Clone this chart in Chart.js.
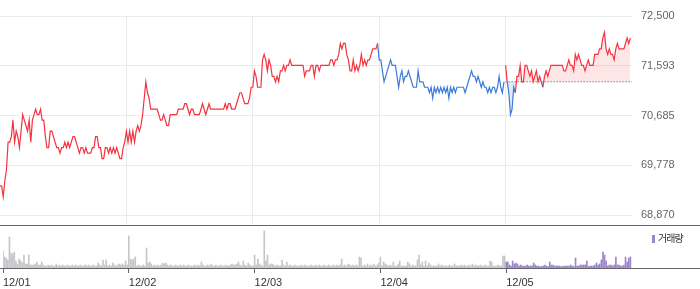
<!DOCTYPE html>
<html>
<head>
<meta charset="utf-8">
<script src="https://cdn.jsdelivr.net/npm/chart.js@4.4.1/dist/chart.umd.min.js"></script>
<style>
  html, body { margin: 0; padding: 0; background: #fff; }
  #wrap { position: relative; width: 700px; height: 289px; overflow: hidden; }
  #price { position: absolute; left: 0; top: 0; }
  #vol { position: absolute; left: 0; top: 226px; }
  #legend { position: absolute; left: 652px; top: 232px; font: 10px "Noto Sans CJK KR", sans-serif; color: #333; line-height: 11px; letter-spacing: -1px; }
  #legend i { display: inline-block; width: 3px; height: 8px; background: #9b86c9; margin-right: 3px; vertical-align: -1px; }
</style>
</head>
<body>
<div id="wrap">
  <canvas id="price" width="700" height="226" style="width:700px;height:226px"></canvas>
  <canvas id="vol" width="700" height="63" style="width:700px;height:63px"></canvas>
  <div id="legend"><i></i>거래량</div>
</div>
<script>
// 5-day intraday chart, 78 bars per day
const days = ['12/01', '12/02', '12/03', '12/04', '12/05'];
const yTicks = [68870, 69778, 70685, 71593, 72500];

const day1 = [
  69400, 69400, 69200, 69500, 69700, 70200, 70200, 70300, 70600, 70200,
  70400, 70300, 70100, 70400, 70700, 70600, 70500, 70400, 70600, 70200,
  70600, 70700, 70800, 70700, 70700, 70800, 70600, 70600, 70300, 70100,
  70100, 70400, 70400, 70300, 70200, 70100, 70100, 70000, 70100, 70100,
  70200, 70100, 70200, 70100, 70200, 70300, 70300, 70200, 70100, 70000,
  70100, 70100, 70000, 70100, 70000, 70000, 70000, 70100, 70100, 70300,
  70300, 70100, 70100, 69900, 69900, 70100, 70100, 70000, 70100, 70000,
  70100, 70000, 70100, 70000, 69900, 69900, 70100, 70200
];
const day2 = [
  70400, 70200, 70400, 70200, 70400, 70200, 70400, 70500, 70400, 70500,
  70700, 71000, 71300, 71100, 71000, 70800, 70800, 70800, 70800, 70800,
  70700, 70600, 70600, 70700, 70600, 70500, 70500, 70700, 70700, 70700,
  70700, 70700, 70800, 70800, 70800, 70800, 70900, 70900, 70800, 70700,
  70800, 70800, 70700, 70700, 70700, 70700, 70800, 70900, 70800, 70700,
  70800, 70900, 70800, 70800, 70800, 70800, 70800, 70800, 70800, 70800,
  70800, 70900, 70800, 70900, 70900, 70800, 70800, 70800, 70900, 71000,
  71100, 71100, 71000, 70900, 70900, 70900, 71000, 71200
];
const day3 = [
  71200, 71500, 71400, 71200, 71200, 71200, 71700, 71800, 71700, 71500,
  71700, 71600, 71400, 71400, 71300, 71400, 71300, 71500, 71500, 71600,
  71500, 71600, 71600, 71700, 71600, 71600, 71600, 71600, 71600, 71600,
  71600, 71600, 71400, 71500, 71500, 71500, 71600, 71600, 71400, 71600,
  71600, 71500, 71600, 71600, 71600, 71600, 71600, 71600, 71700, 71700,
  71600, 71700, 71700, 71800, 72000, 71900, 72000, 72000, 71800, 71700,
  71500, 71500, 71700, 71500, 71600, 71500, 71600, 71800, 71600, 71700,
  71600, 71700, 71700, 71800, 71900, 71900, 71900, 72000
];
const day4 = [
  71700, 71700, 71500, 71300, 71400, 71500, 71600, 71700, 71600, 71600,
  71600, 71400, 71200, 71400, 71500, 71300, 71400, 71400, 71500, 71400,
  71300, 71200, 71200, 71200, 71500, 71300, 71300, 71300, 71200, 71200,
  71200, 71100, 71200, 71000, 71200, 71100, 71200, 71100, 71200, 71100,
  71200, 71100, 71200, 71000, 71200, 71100, 71200, 71100, 71200, 71200,
  71200, 71200, 71200, 71100, 71200, 71300, 71400, 71500, 71400, 71400,
  71300, 71400, 71300, 71200, 71300, 71200, 71200, 71100, 71200, 71100,
  71200, 71200, 71100, 71200, 71400, 71200, 71100, 71300
];
const day5 = [
  71600, 71300, 71100, 70700, 70800, 71200, 71100, 71400, 71400, 71600,
  71300, 71300, 71600, 71600, 71500, 71400, 71500, 71300, 71400, 71500,
  71300, 71400, 71300, 71200, 71400, 71500, 71400, 71500, 71600, 71600,
  71600, 71600, 71600, 71600, 71600, 71600, 71500, 71500, 71600, 71700,
  71600, 71600, 71500, 71800, 71700, 71800, 71700, 71600, 71600, 71500,
  71600, 71700, 71600, 71600, 71600, 71800, 71800, 71800, 71900, 71900,
  72100, 72200, 71900, 71800, 71900, 71800, 71800, 71700, 71900, 72000,
  71900, 71900, 71900, 71900, 72000, 72100, 72000, 72100
];

// volume, thousand shares
const vol1 = [
  17, 11, 10, 8, 31, 15, 14, 16, 7, 4,
  9, 7, 5, 13, 4, 4, 13, 3, 3, 3,
  4, 6, 3, 3, 6, 3, 2, 2, 3, 2,
  3, 2, 2, 4, 2, 3, 2, 3, 2, 2,
  3, 2, 2, 3, 2, 3, 2, 2, 3, 2,
  2, 3, 2, 3, 2, 2, 3, 2, 2, 5,
  3, 2, 8, 3, 8, 2, 3, 2, 5, 3,
  2, 3, 4, 3, 4, 3, 7, 3
];
const vol2 = [
  32, 9, 8, 9, 11, 2, 3, 2, 2, 3,
  2, 20, 5, 6, 4, 2, 3, 2, 3, 2,
  3, 5, 4, 5, 3, 2, 3, 2, 2, 3,
  2, 2, 3, 2, 3, 2, 2, 3, 2, 2,
  2, 3, 2, 3, 2, 6, 3, 2, 2, 3,
  2, 4, 2, 2, 3, 2, 2, 3, 2, 2,
  3, 2, 2, 3, 4, 3, 3, 4, 6, 3,
  2, 7, 3, 2, 5, 3, 2, 2
];
const vol3 = [
  13, 3, 9, 4, 3, 2, 37, 7, 13, 3,
  4, 4, 3, 2, 3, 2, 2, 8, 3, 2,
  6, 2, 3, 2, 2, 3, 2, 2, 2, 3,
  2, 3, 2, 2, 2, 3, 2, 2, 3, 2,
  3, 2, 2, 3, 2, 2, 3, 2, 2, 3,
  2, 3, 2, 3, 9, 2, 3, 2, 4, 3,
  2, 3, 2, 3, 2, 11, 10, 2, 3, 2,
  4, 2, 3, 2, 4, 2, 3, 5
];
const vol4 = [
  11, 2, 6, 4, 3, 2, 3, 2, 6, 2,
  2, 4, 7, 2, 2, 2, 2, 6, 4, 2,
  3, 2, 2, 8, 13, 3, 6, 2, 7, 2,
  5, 3, 2, 2, 2, 2, 4, 2, 3, 2,
  2, 2, 2, 3, 2, 2, 4, 2, 2, 2,
  3, 2, 3, 2, 2, 3, 2, 4, 2, 3,
  2, 2, 3, 2, 2, 3, 2, 2, 7, 6,
  2, 2, 2, 3, 2, 2, 12, 12
];
const vol5 = [
  6, 6, 3, 2, 7, 4, 5, 4, 2, 3,
  2, 2, 2, 3, 2, 2, 2, 5, 3, 2,
  2, 1.5, 1.5, 2, 3, 2, 1.5, 6, 3, 3,
  2, 2, 2, 2, 1.5, 1.5, 2, 2, 2, 2,
  3, 2, 1.5, 10, 2, 2, 3, 3, 3, 3,
  7, 1.5, 2, 2, 2, 3, 5, 3, 4, 8,
  16, 13, 7, 2, 3, 3, 2, 3, 11, 3,
  3, 2, 2, 3, 11, 6, 10, 11
];

const RED = '#f5333f';
const BLUE = '#3a7bdc';
const GRAY_BAR = '#c6c6ca';
const PURPLE = '#9b86c9';
const GRID = '#ebebeb';
const FONT = 'Arial, "Liberation Sans", sans-serif';

const dayPrices = [day1, day2, day3, day4, day5];
const dayVols = [vol1, vol2, vol3, vol4, vol5];
const dayStarts = [];
let n = 0;
dayPrices.forEach(d => { dayStarts.push(n); n += d.length; });
const xMax = n;
// day colour: up vs previous close red, down blue
const dayColors = [RED, RED, RED, BLUE];
const prevClose = day4[day4.length - 1];

function dayOf(i) {
  let d = 0;
  for (let k = 0; k < dayStarts.length; k++) if (i >= dayStarts[k]) d = k;
  return d;
}

const firstPart = [];
for (let d = 0; d < 4; d++) dayPrices[d].forEach((p, i) => firstPart.push({ x: dayStarts[d] + i, y: p }));
const lastPart = day5.map((p, i) => ({ x: dayStarts[4] + i, y: p }));
const volPoints = [];
dayVols.forEach((v, d) => v.forEach((q, i) => volPoints.push({ x: dayStarts[d] + i, y: q })));

// dark rule across the full width under each panel
function rule(atCanvasBottom) {
  return {
    id: 'rule',
    afterDraw(chart) {
      const ctx = chart.ctx;
      const y = atCanvasBottom ? chart.height - 1 : Math.round(chart.chartArea.bottom);
      ctx.save();
      ctx.fillStyle = '#666';
      ctx.fillRect(0, y, chart.width, 1);
      ctx.restore();
    }
  };
}

new Chart(document.getElementById('price'), {
  type: 'line',
  data: {
    datasets: [
      {
        data: firstPart,
        borderColor: RED,
        borderWidth: 1.2,
        pointRadius: 0,
        fill: false,
        segment: { borderColor: c => dayColors[dayOf(c.p1DataIndex)] }
      },
      {
        data: lastPart,
        borderColor: RED,
        borderWidth: 1.2,
        pointRadius: 0,
        fill: { target: { value: prevClose }, above: 'rgba(245,60,70,0.13)', below: 'rgba(60,130,225,0.16)' },
        segment: {
          borderColor: c => {
            const a = c.p0.parsed.y, b = c.p1.parsed.y;
            if (a >= prevClose && b >= prevClose) return RED;
            if (a <= prevClose && b <= prevClose) return BLUE;
            return b > prevClose ? RED : BLUE;
          }
        }
      },
      {
        data: [{ x: dayStarts[4], y: prevClose }, { x: xMax, y: prevClose }],
        borderColor: '#444',
        borderWidth: 1,
        borderDash: [1, 2],
        pointRadius: 0,
        fill: false
      }
    ]
  },
  options: {
    responsive: false,
    animation: false,
    events: [],
    layout: { padding: { top: 16, bottom: 1, left: 0, right: 0 } },
    plugins: { legend: { display: false }, tooltip: { enabled: false } },
    scales: {
      x: {
        type: 'linear', min: 0, max: xMax,
        ticks: { display: false },
        grid: { color: c => (c.tick && c.tick.value === 0) ? 'rgba(0,0,0,0)' : GRID, drawTicks: false },
        border: { display: false },
        afterBuildTicks: s => { s.ticks = dayStarts.map(v => ({ value: v })); },
        afterFit: s => { s.height = 0; }
      },
      y: {
        position: 'right', min: 68688, max: 72500,
        afterBuildTicks: s => { s.ticks = yTicks.map(v => ({ value: v })); },
        ticks: { color: '#666', font: { size: 11, family: FONT }, padding: 9, callback: v => v.toLocaleString('en-US') },
        grid: { color: GRID, drawTicks: false },
        border: { display: false },
        // labels sit inside the panel, so no extra room above/below
        afterFit: s => { s.width = 68; s.paddingTop = 0; s.paddingBottom = 0; }
      }
    }
  },
  plugins: [rule(true)]
});

new Chart(document.getElementById('vol'), {
  type: 'bar',
  data: {
    datasets: [{
      data: volPoints,
      backgroundColor: volPoints.map(p => p.x >= dayStarts[4] ? PURPLE : GRAY_BAR),
      barThickness: 1
    }]
  },
  options: {
    responsive: false,
    animation: false,
    events: [],
    layout: { padding: { top: 0, bottom: 0, left: 0, right: 68 } },
    plugins: { legend: { display: false }, tooltip: { enabled: false } },
    scales: {
      x: {
        type: 'linear', min: 0, max: xMax, offset: false,
        afterBuildTicks: s => { s.ticks = dayStarts.map(v => ({ value: v })); },
        ticks: { color: '#333', font: { size: 11, family: FONT }, padding: 3, align: 'start', maxRotation: 0, autoSkip: false, callback: (v, i) => days[i] },
        grid: { offset: false, drawOnChartArea: false, drawTicks: true, tickLength: 5, color: '#666' },
        border: { display: false },
        afterFit: s => { s.height = 21; }
      },
      y: { display: false, min: 0, max: 42 }
    }
  },
  plugins: [rule(false)]
});
</script>
</body>
</html>
